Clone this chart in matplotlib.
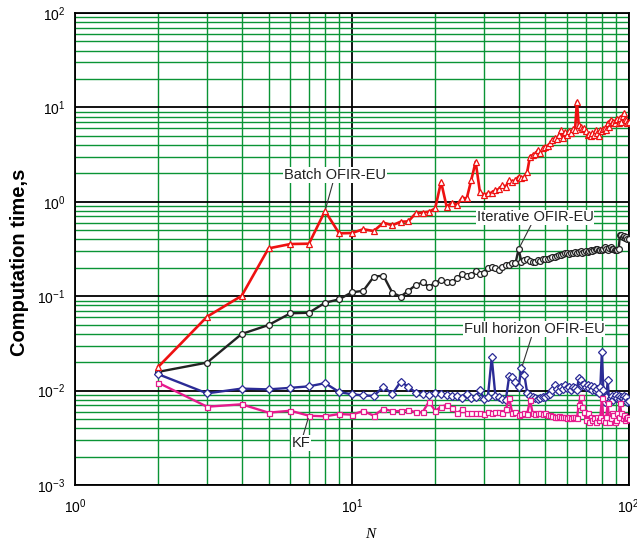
import matplotlib
matplotlib.use("Agg")
import matplotlib.pyplot as plt
from matplotlib.ticker import LogLocator, NullFormatter

plt.rcParams['font.family'] = ['Liberation Sans', 'DejaVu Sans']
plt.rcParams['mathtext.fontset'] = 'custom'
plt.rcParams['mathtext.rm'] = 'Liberation Sans'
plt.rcParams['mathtext.it'] = 'Liberation Sans:italic'

N = list(range(2, 101))

batch = [0.0179, 0.0607, 0.101, 0.321, 0.357, 0.36, 0.80, 0.463, 0.467, 0.512,
         0.49, 0.601, 0.564, 0.615, 0.62, 0.755, 0.77, 0.786, 0.85, 1.63,
         0.887, 0.98, 0.925, 1.1, 1.09, 1.70, 2.66, 1.28, 1.18, 1.23,
         1.25, 1.33, 1.36, 1.5, 1.45, 1.70, 1.63, 1.70, 1.85, 1.78,
         1.82, 2.08, 3.01, 3.13, 3.2, 3.54, 3.26, 3.7, 3.84, 3.9,
         4.15, 4.52, 4.7, 4.6, 5.1, 5.77, 4.7, 5.53, 5.1, 5.6,
         5.4, 5.9, 5.77, 11.5, 6.5, 6.25, 5.9, 6.0, 5.6, 5.1,
         5.2, 5.0, 5.3, 5.1, 5.77, 5.3, 5.0, 5.77, 5.6, 5.9,
         6.0, 5.77, 6.9, 6.25, 7.36, 6.9, 7.06, 6.8, 7.36, 7.45,
         6.9, 7.8, 7.06, 8.2, 8.65, 7.6, 7.36, 6.8, 7.06]

iterative = [0.0158, 0.0198, 0.0398, 0.0495, 0.0659, 0.0668, 0.0853, 0.0927, 0.110, 0.114,
             0.161, 0.165, 0.109, 0.099, 0.114, 0.131, 0.14, 0.126, 0.139, 0.149,
             0.14, 0.143, 0.155, 0.171, 0.165, 0.168, 0.186, 0.172, 0.178, 0.197,
             0.205, 0.197, 0.19, 0.203, 0.212, 0.214, 0.223, 0.223, 0.314, 0.232,
             0.24, 0.245, 0.235, 0.228, 0.232, 0.24, 0.238, 0.245, 0.248, 0.25,
             0.255, 0.258, 0.262, 0.265, 0.27, 0.272, 0.278, 0.29, 0.285, 0.28,
             0.285, 0.29, 0.295, 0.288, 0.292, 0.298, 0.29, 0.296, 0.3, 0.295,
             0.3, 0.305, 0.3, 0.31, 0.315, 0.32, 0.31, 0.305, 0.312, 0.318,
             0.33, 0.315, 0.31, 0.325, 0.33, 0.32, 0.315, 0.31, 0.308, 0.31,
             0.32, 0.45, 0.44, 0.42, 0.43, 0.41, 0.42, 0.40, 0.40]

full_horizon = [0.0149, 0.00935, 0.0105, 0.0103, 0.0107, 0.0111, 0.0120, 0.00966, 0.00914, 0.0089,
                0.00877, 0.011, 0.0092, 0.0124, 0.011, 0.0095, 0.0093, 0.0090, 0.0095, 0.0091,
                0.0089, 0.0088, 0.0088, 0.0083, 0.0093, 0.0084, 0.0086, 0.0101, 0.0081, 0.0086,
                0.0225, 0.0088, 0.0085, 0.0082, 0.0080, 0.0142, 0.0138, 0.0122, 0.0110, 0.0172,
                0.0146, 0.0094, 0.0088, 0.0086, 0.0084, 0.0081, 0.0083, 0.0085, 0.0086, 0.0089,
                0.0093, 0.0101, 0.0114, 0.0104, 0.0098, 0.0110, 0.0104, 0.0114, 0.0106, 0.0108,
                0.0101, 0.0110, 0.0106, 0.0101, 0.0135, 0.0130, 0.0114, 0.0118, 0.0110, 0.0116,
                0.0106, 0.0112, 0.0101, 0.0108, 0.0098, 0.0104, 0.0094, 0.0110, 0.0258, 0.0101,
                0.0076, 0.0086, 0.0128, 0.0076, 0.0083, 0.0088, 0.0080, 0.0086, 0.0090, 0.0083,
                0.0088, 0.0081, 0.0086, 0.0083, 0.0088, 0.0080, 0.0085, 0.0076, 0.0078]

kf = [0.0121, 0.00675, 0.00716, 0.00584, 0.00612, 0.00542, 0.00534, 0.00565, 0.00556, 0.00608,
      0.00542, 0.00643, 0.00604, 0.00608, 0.00623, 0.00589, 0.00589, 0.00764, 0.0061, 0.00676,
      0.00703, 0.00649, 0.00574, 0.00634, 0.00584, 0.00584, 0.00574, 0.00584, 0.00565, 0.00589,
      0.00584, 0.00593, 0.00589, 0.00584, 0.00634, 0.00828, 0.00574, 0.00598, 0.00552, 0.00565,
      0.00574, 0.00565, 0.00795, 0.00574, 0.00565, 0.00584, 0.00574, 0.00565, 0.00574, 0.00552,
      0.00552, 0.00538, 0.0053, 0.0053, 0.00538, 0.0053, 0.00521, 0.0053, 0.00508, 0.0053,
      0.00508, 0.00521, 0.0053, 0.00508, 0.00703, 0.00863, 0.00676, 0.00598, 0.00488, 0.00574,
      0.00469, 0.0053, 0.00488, 0.00508, 0.00469, 0.0053, 0.00488, 0.0053, 0.00828, 0.00488,
      0.00469, 0.0053, 0.00733, 0.00469, 0.00508, 0.00574, 0.00552, 0.00469, 0.00488, 0.00574,
      0.0053, 0.00733, 0.00574, 0.00508, 0.00552, 0.00488, 0.00508, 0.0053, 0.00496]

W, H = 637, 544
fig = plt.figure(figsize=(W / 100, H / 100), dpi=100)
ax = fig.add_axes([75 / W, 1 - 485 / H, 553.7 / W, 472 / H])

ax.set_xscale('log')
ax.set_yscale('log')
ax.set_xlim(1, 100)
ax.set_ylim(1e-3, 1e2)

for axis in (ax.xaxis, ax.yaxis):
    axis.set_major_locator(LogLocator(base=10, numticks=10))
    axis.set_minor_locator(LogLocator(base=10, subs=range(2, 10), numticks=20))
    axis.set_minor_formatter(NullFormatter())

ax.grid(which='major', color='black', linewidth=1.3)
ax.grid(which='minor', color='#0a9435', linewidth=1.0)
ax.set_axisbelow(True)
ax.tick_params(which='both', length=0)
ax.tick_params(axis='y', pad=7, labelsize=10)
ax.tick_params(axis='x', pad=9, labelsize=10)
for s in ax.spines.values():
    s.set_color('black')
    s.set_linewidth(1.3)
    s.set_zorder(3)

mk = dict(markerfacecolor='white', markersize=4.2, markeredgewidth=0.9)
l_batch, = ax.plot(N, batch, color='#ee1111', lw=1.9, marker='^', markeredgecolor='#ee1111', zorder=5, **mk)
l_iter, = ax.plot(N, iterative, color='#222222', lw=1.7, marker='o', markeredgecolor='#222222', zorder=4, **mk)
l_full, = ax.plot(N, full_horizon, color='#2b2b96', lw=1.7, marker='D', markeredgecolor='#2b2b96', zorder=4,
                  markerfacecolor='white', markersize=3.6, markeredgewidth=0.9)
l_kf, = ax.plot(N, kf, color='#e61a8d', lw=1.7, marker='s', markeredgecolor='#e61a8d', zorder=4,
                markerfacecolor='white', markersize=3.6, markeredgewidth=0.9)

bbox = dict(boxstyle='square,pad=0.05', facecolor='white', edgecolor='none')
arrow = dict(arrowstyle='-', color='#333333', lw=0.8, shrinkA=0, shrinkB=2)
tstyle = dict(fontsize=10.5, color='#222222', ha='center', va='center', bbox=bbox,
              textcoords='axes fraction', arrowprops=arrow, zorder=6)

ax.annotate('Batch OFIR-EU', xy=(N[6], batch[6]), xytext=(0.4696, 0.6568), **tstyle)
ax.annotate('Iterative OFIR-EU', xy=(N[38], iterative[38]), xytext=(0.8308, 0.5672), **tstyle)
ax.annotate('Full horizon OFIR-EU', xy=(N[39], full_horizon[39]), xytext=(0.829, 0.3305), **tstyle)
ax.annotate('KF', xy=(N[5], kf[5]), xytext=(0.408, 0.089), **tstyle)

fig.text(20 / W, 1 - 262.5 / H, 'Computation time,s', rotation=90, fontsize=14.5,
         fontweight='bold', ha='center', va='center')
fig.text(370 / W, 1 - 535 / H, 'N', fontsize=11, style='italic',
         family=['Liberation Serif', 'DejaVu Serif'], ha='center', va='center')

fig.savefig('out.png', dpi=100)
